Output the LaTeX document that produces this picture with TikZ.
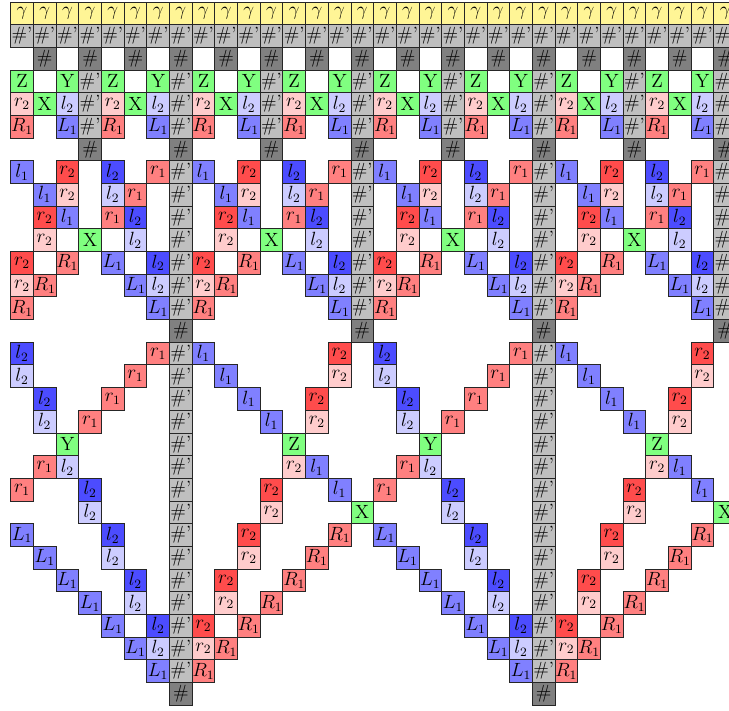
\documentclass[tikz,border=0pt]{standalone}
\definecolor{yel}{RGB}{255,245,150}
\tikzset{
  cell/.style={draw=black!85, line width=0.5pt, minimum size=5mm, inner sep=0pt, outer sep=0pt, text=black, font=\fontsize{12}{13}\selectfont},
  cg/.style={cell, fill=yel},
  chp/.style={cell, fill=black!25},
  ch/.style={cell, fill=black!50},
  cgr/.style={cell, fill=green!50},
  crl/.style={cell, fill=red!20},
  crm/.style={cell, fill=red!50},
  crd/.style={cell, fill=red!70},
  cbl/.style={cell, fill=blue!20},
  cbm/.style={cell, fill=blue!50},
  cbd/.style={cell, fill=blue!70},
}
\begin{document}
\begin{tikzpicture}[x=5mm,y=5mm]
\useasboundingbox (-0.472,-31.26) rectangle (31.67,0.088);
\clip (-0.472,-31.26) rectangle (31.67,0.088);
% top band
\foreach \cc in {0,...,31} {
  \node[cg] (g\cc) at (\cc+0.5,-0.5) {$\gamma$};
  \node[chp] (p\cc) at (\cc+0.5,-1.5) {\#'};
}
\foreach \cc in {1,3,...,31} \node[ch] (h\cc) at (\cc+0.5,-2.5) {\#};
\foreach \pp in {0,4,...,28} {
  \foreach \mm/\rw/\sty/\lab in {0/3/cgr/Z, 2/3/cgr/Y, 3/3/chp/{\#'},
      0/4/crl/{$r_2$}, 1/4/cgr/X, 2/4/cbl/{$l_2$}, 3/4/chp/{\#'},
      0/5/crm/{$R_1$}, 2/5/cbm/{$L_1$}, 3/5/chp/{\#'}, 3/6/ch/{\#}} {
    \pgfmathtruncatemacro\cc{\pp+\mm}
    \node[\sty] (n\cc-\rw) at (\cc+0.5,-\rw-0.5) {\lab};
  }
}
% middle band, period 8
\foreach \pp in {0,8,16,24} {
  \foreach \mm/\rw/\sty/\lab in {
      0/7/cbm/{$l_1$}, 2/7/crd/{$r_2$}, 4/7/cbd/{$l_2$}, 6/7/crm/{$r_1$},
      1/8/cbm/{$l_1$}, 2/8/crl/{$r_2$}, 4/8/cbl/{$l_2$}, 5/8/crm/{$r_1$},
      1/9/crd/{$r_2$}, 2/9/cbm/{$l_1$}, 4/9/crm/{$r_1$}, 5/9/cbd/{$l_2$},
      1/10/crl/{$r_2$}, 3/10/cgr/X, 5/10/cbl/{$l_2$},
      0/11/crd/{$r_2$}, 2/11/crm/{$R_1$}, 4/11/cbm/{$L_1$}, 6/11/cbd/{$l_2$},
      0/12/crl/{$r_2$}, 1/12/crm/{$R_1$}, 5/12/cbm/{$L_1$}, 6/12/cbl/{$l_2$},
      0/13/crm/{$R_1$}, 6/13/cbm/{$L_1$},
      7/7/chp/{\#'}, 7/8/chp/{\#'}, 7/9/chp/{\#'}, 7/10/chp/{\#'},
      7/11/chp/{\#'}, 7/12/chp/{\#'}, 7/13/chp/{\#'}, 7/14/ch/{\#}} {
    \pgfmathtruncatemacro\cc{\pp+\mm}
    \node[\sty] (n\cc-\rw) at (\cc+0.5,-\rw-0.5) {\lab};
  }
}
% bottom band, period 16
\foreach \pp in {0,16} {
  \foreach \mm/\rw/\sty/\lab in {
      0/15/cbd/{$l_2$}, 6/15/crm/{$r_1$}, 8/15/cbm/{$l_1$}, 14/15/crd/{$r_2$},
      0/16/cbl/{$l_2$}, 5/16/crm/{$r_1$}, 9/16/cbm/{$l_1$}, 14/16/crl/{$r_2$},
      1/17/cbd/{$l_2$}, 4/17/crm/{$r_1$}, 10/17/cbm/{$l_1$}, 13/17/crd/{$r_2$},
      1/18/cbl/{$l_2$}, 3/18/crm/{$r_1$}, 11/18/cbm/{$l_1$}, 13/18/crl/{$r_2$},
      2/19/cgr/Y, 12/19/cgr/Z,
      1/20/crm/{$r_1$}, 2/20/cbl/{$l_2$}, 12/20/crl/{$r_2$}, 13/20/cbm/{$l_1$},
      0/21/crm/{$r_1$}, 3/21/cbd/{$l_2$}, 11/21/crd/{$r_2$}, 14/21/cbm/{$l_1$},
      3/22/cbl/{$l_2$}, 11/22/crl/{$r_2$}, 15/22/cgr/X,
      0/23/cbm/{$L_1$}, 4/23/cbd/{$l_2$}, 10/23/crd/{$r_2$}, 14/23/crm/{$R_1$},
      1/24/cbm/{$L_1$}, 4/24/cbl/{$l_2$}, 10/24/crl/{$r_2$}, 13/24/crm/{$R_1$},
      2/25/cbm/{$L_1$}, 5/25/cbd/{$l_2$}, 9/25/crd/{$r_2$}, 12/25/crm/{$R_1$},
      3/26/cbm/{$L_1$}, 5/26/cbl/{$l_2$}, 9/26/crl/{$r_2$}, 11/26/crm/{$R_1$},
      4/27/cbm/{$L_1$}, 6/27/cbd/{$l_2$}, 8/27/crd/{$r_2$}, 10/27/crm/{$R_1$},
      5/28/cbm/{$L_1$}, 6/28/cbl/{$l_2$}, 8/28/crl/{$r_2$}, 9/28/crm/{$R_1$},
      6/29/cbm/{$L_1$}, 8/29/crm/{$R_1$}} {
    \pgfmathtruncatemacro\cc{\pp+\mm}
    \node[\sty] (n\cc-\rw) at (\cc+0.5,-\rw-0.5) {\lab};
  }
  \foreach \rw in {15,...,29} {
    \pgfmathtruncatemacro\cc{\pp+7}
    \node[chp] (n\cc-\rw) at (\cc+0.5,-\rw-0.5) {\#'};
  }
  \pgfmathtruncatemacro\cc{\pp+7}
  \node[ch] (n\cc-30) at (\cc+0.5,-30.5) {\#};
}
\end{tikzpicture}
\end{document}
